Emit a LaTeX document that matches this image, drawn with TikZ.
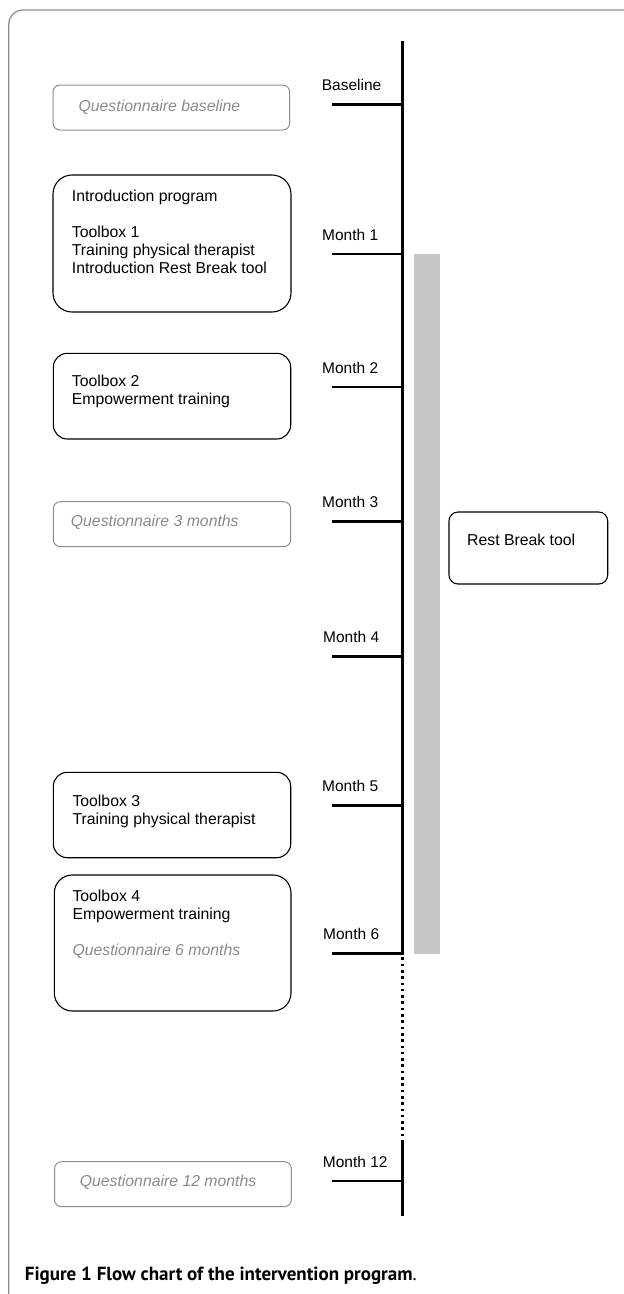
\documentclass[tikz,border=0pt]{standalone}
\usepackage{fontspec}
\setmainfont{Liberation Sans}
\newfontfamily\capfont{PT Sans}
\definecolor{framec}{HTML}{8C8C8C}
\definecolor{qgray}{HTML}{8E8E8E}
\definecolor{qtext}{HTML}{8A8A8A}
\definecolor{barc}{HTML}{C6C6C6}
\begin{document}
\begin{tikzpicture}[x=1pt,y=-1pt,
  axis/.style={line width=2.8pt,black},
  tick/.style={line width=2.8pt,black},
  dots/.style={line width=2.6pt,black,dash pattern=on 2.6pt off 3.7pt},
  boxb/.style={draw=black,line width=1.1pt,rounded corners=16pt,anchor=north west,inner sep=0pt,outer sep=0pt},
  qbox/.style={draw=qgray,line width=1pt,rounded corners=7pt,anchor=north west,inner sep=0pt,outer sep=0pt},
  rbox/.style={draw=black,line width=1.1pt,rounded corners=9pt,anchor=north west,inner sep=0pt,outer sep=0pt},
  txt/.style={anchor=base west,inner sep=0pt,font=\fontsize{15.8}{18}\selectfont},
  qtxt/.style={txt,text=qtext,font=\fontsize{15.8}{18}\selectfont\itshape},
  lbl/.style={anchor=base west,inner sep=0pt,font=\fontsize{15.5}{18}\selectfont}
]
\useasboundingbox (0,0) rectangle (624,1294);
% frame
\draw[framec,line width=1.2pt,rounded corners=14pt] (8.8,1300) -- (8.8,10) -- (630,10);
% grey bar
\fill[barc] (414,254) rectangle (440,954);
% axis coordinates
\coordinate (top) at (402.5,41);
\coordinate (a0) at (402.5,104.3);
\coordinate (a1) at (402.5,254);
\coordinate (a2) at (402.5,387);
\coordinate (a3) at (402.5,521.3);
\coordinate (a4) at (402.5,656.7);
\coordinate (a5) at (402.5,805.7);
\coordinate (a6) at (402.5,953.3);
\coordinate (dend) at (402.5,1143);
\coordinate (a12) at (402.5,1181);
\coordinate (bot) at (402.5,1216);
\coordinate (t0) at (332,104.3);
\coordinate (t1) at (332,254);
\coordinate (t2) at (332,387);
\coordinate (t3) at (332,521.3);
\coordinate (t4) at (332,656.7);
\coordinate (t5) at (332,805.7);
\coordinate (t6) at (332,953.3);
\coordinate (t12) at (332,1181);
% axis
\draw[axis] (top) -- (a6);
\draw[dots] ([yshift=-4pt]a6) -- (dend);
\draw[axis] (dend) -- (bot);
% ticks
\foreach \i in {0,1,2,3,4,5,6,12} \draw[tick] (t\i) -- ([xshift=1.4pt]a\i);
% labels
\node[lbl] (lb0) at (321.7,90.3) {Baseline};
\node[lbl] (lb1) at (322,240) {Month 1};
\node[lbl] (lb2) at (322,373) {Month 2};
\node[lbl] (lb3) at (322,507.3) {Month 3};
\node[lbl] (lb4) at (323,642.7) {Month 4};
\node[lbl] (lb5) at (322,791.7) {Month 5};
\node[lbl] (lb6) at (323,939.3) {Month 6};
\node[lbl] (lb12) at (322.7,1167.5) {Month 12};
% boxes
\node[qbox,minimum width=236.7pt,minimum height=45pt] (q0) at (53,85) {};
\node[qtxt] (q0t) at (78.4,111.5) {Questionnaire baseline};
\node[boxb,minimum width=238pt,minimum height=137pt,rounded corners=19pt] (b1) at (53,175) {};
\node[txt] (b1a) at (71.7,201) {Introduction program};
\node[txt] (b1b) at (71.7,237) {Toolbox 1};
\node[txt] (b1c) at (71.7,255) {Training physical therapist};
\node[txt] (b1d) at (71.7,273) {Introduction Rest Break tool};
\node[boxb,minimum width=237.4pt,minimum height=85.7pt,rounded corners=14pt] (b2) at (53.3,353.3) {};
\node[txt] (b2a) at (71.7,386.7) {Toolbox 2};
\node[txt] (b2b) at (71.7,404.7) {Empowerment training};
\node[qbox,minimum width=237.4pt,minimum height=45pt] (q3) at (53.3,501.7) {};
\node[qtxt] (q3t) at (70.7,526.7) {Questionnaire 3 months};
\node[rbox,minimum width=158.7pt,minimum height=72pt] (rb) at (449,512) {};
\node[txt] (rbt) at (467,545) {Rest Break tool};
\node[boxb,minimum width=237.4pt,minimum height=85.4pt,rounded corners=14pt] (b3) at (53.3,772.3) {};
\node[txt] (b3a) at (72.3,806.7) {Toolbox 3};
\node[txt] (b3b) at (72.3,824.7) {Training physical therapist};
\node[boxb,minimum width=236.7pt,minimum height=136pt,rounded corners=18pt] (b4) at (54.3,875) {};
\node[txt] (b4a) at (72.3,901) {Toolbox 4};
\node[txt] (b4b) at (72.3,919) {Empowerment training};
\node[qtxt] (b4c) at (72.3,955) {Questionnaire 6 months};
\node[qbox,minimum width=236.8pt,minimum height=45pt] (q12) at (54.5,1161.7) {};
\node[qtxt] (q12t) at (79.6,1186.7) {Questionnaire 12 months};
% caption
\node[anchor=base west,inner sep=0pt,font=\capfont\fontsize{19}{22}\selectfont] (cap) at (24.7,1280) {\textbf{Figure 1 Flow chart of the intervention program}.};
\end{tikzpicture}
\end{document}
